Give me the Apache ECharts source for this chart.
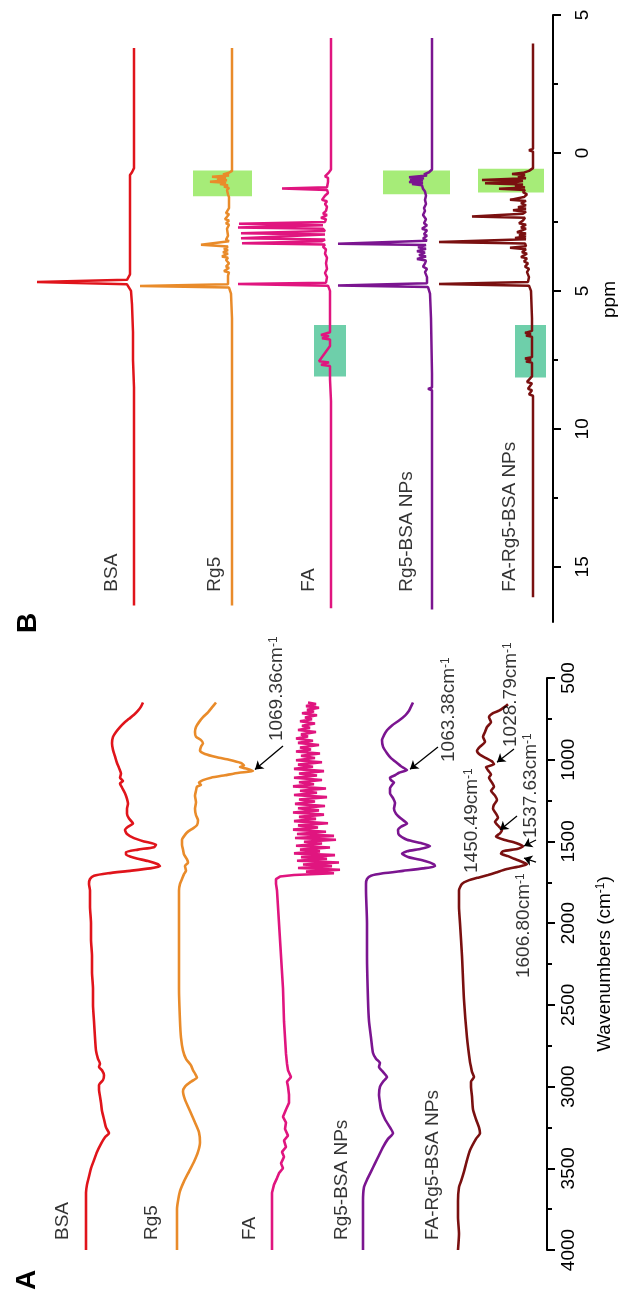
<!DOCTYPE html>
<html><head><meta charset="utf-8">
<script src="https://cdn.jsdelivr.net/npm/echarts@6/dist/echarts.min.js"></script>
<style>html,body{margin:0;padding:0;background:#fff}#c{width:618px;height:1297px}</style>
</head><body><div id="c"></div>
<script>
// ---------------- DATA ----------------
const sampleNames = ['BSA', 'Rg5', 'FA', 'Rg5-BSA NPs', 'FA-Rg5-BSA NPs'];
const wnTicks = [500, 1000, 1500, 2000, 2500, 3000, 3500, 4000];
const wnTickLabels = ['500', '1000', '1500', '2000', '2500', '3000', '3500', '4000'];
const wnMinorTicks = [750, 1250, 1750, 2250, 2750, 3250, 3750];
const ppmTicks = [-5, 0, 5, 10, 15];
const ppmTickLabels = ['5', '0', '5', '10', '15'];
const ppmMinorTicks = [-2.5, 2.5, 7.5, 12.5];

// FTIR: [wavenumber (cm-1), relative absorbance (a.u.)]
const ftirBSA = [[650,57],[675,55],[700,52],[725,48],[750,43],[775,38],[800,34],[830,30],[860,27],[900,26],[940,27],[980,29],[1020,31],[1050,33],[1085,35],[1110,34],[1130,37],[1145,34],[1170,36],[1205,39],[1240,41],[1270,42],[1300,41],[1330,41],[1360,43],[1390,47],[1410,42],[1430,39],[1455,41],[1480,48],[1500,58],[1520,70],[1535,68],[1550,52],[1565,40],[1580,40],[1600,48],[1620,62],[1640,72],[1652,74],[1665,64],[1680,44],[1695,22],[1710,8],[1730,4],[1760,3],[1800,4],[1900,4],[2000,5],[2100,5],[2200,6],[2300,6],[2400,7],[2500,7],[2600,8],[2700,9],[2780,10],[2830,12],[2860,14],[2880,13],[2900,16],[2930,18],[2960,17],[2990,13],[3020,13],[3060,14],[3100,15],[3150,16],[3200,18],[3250,20],[3285,23],[3310,19],[3350,15],[3400,11],[3450,8],[3500,5],[3550,3],[3600,1],[3650,0],[3800,0],[3900,0],[4000,0]];
const ftirRg5 = [[650,39],[680,35],[710,31],[740,26],[770,22],[800,19],[830,18],[860,19],[880,24],[900,26],[920,24],[945,23],[965,28],[985,40],[1000,52],[1020,64],[1035,67],[1045,63],[1055,70],[1069,76],[1080,62],[1095,48],[1110,34],[1125,26],[1140,22],[1155,24],[1165,20],[1190,19],[1220,18],[1260,19],[1300,18],[1340,19],[1370,21],[1400,20],[1420,16],[1440,11],[1460,8],[1490,5],[1520,5],[1550,6],[1580,7],[1610,10],[1630,11],[1650,8],[1680,9],[1700,7],[1730,5],[1760,3],[1800,2],[1900,2],[2000,2],[2200,2],[2400,2],[2600,3],[2700,4],[2780,6],[2830,9],[2870,14],[2900,16],[2920,18],[2945,20],[2970,14],[3000,8],[3030,6],[3080,8],[3150,13],[3220,18],[3280,22],[3340,23],[3400,21],[3460,17],[3520,12],[3580,7],[3640,3],[3700,1],[3750,0],[4000,0]];
const ftirFA = [[650,36],[660,44],[672,34],[682,47],[695,35],[705,42],[716,30],[728,45],[742,33],[752,40],[765,28],[778,43],[792,30],[805,38],[818,26],[830,44],[845,29],[858,36],[870,24],[884,41],[897,26],[910,47],[925,28],[938,39],[950,24],[962,48],[976,29],[990,43],[1003,24],[1016,50],[1030,26],[1043,41],[1056,22],[1070,52],[1084,27],[1097,45],[1110,22],[1124,50],[1138,27],[1150,42],[1163,21],[1176,54],[1190,28],[1202,45],[1216,22],[1229,55],[1243,27],[1256,43],[1270,23],[1283,53],[1297,26],[1310,47],[1323,21],[1336,52],[1350,27],[1362,44],[1376,22],[1389,56],[1402,26],[1415,46],[1428,21],[1441,54],[1455,25],[1466,62],[1479,23],[1490,64],[1502,32],[1513,50],[1526,24],[1537,58],[1550,28],[1561,48],[1573,22],[1584,63],[1596,29],[1607,55],[1618,25],[1629,67],[1641,31],[1651,60],[1663,26],[1673,68],[1685,34],[1695,62],[1705,22],[1715,8],[1730,4],[1760,4],[1800,5],[2000,7],[2200,9],[2400,11],[2600,12],[2800,14],[2860,15],[2900,16],[2942,19],[2970,15],[3000,16],[3050,17],[3100,17],[3140,14],[3185,11],[3220,14],[3260,13],[3300,16],[3330,12],[3370,14],[3400,10],[3430,12],[3470,9],[3500,11],[3530,7],[3560,5],[3600,2],[3650,0],[3800,0],[4000,0]];
const ftirRg5BSA = [[650,50],[675,48],[700,46],[730,42],[760,36],[790,29],[820,24],[850,21],[880,19],[920,20],[960,24],[990,28],[1020,34],[1040,38],[1063,44],[1080,36],[1095,32],[1110,27],[1125,28],[1140,31],[1155,29],[1175,27],[1205,27],[1235,30],[1265,32],[1300,31],[1330,33],[1360,38],[1390,44],[1410,38],[1430,35],[1460,36],[1490,44],[1510,58],[1528,67],[1545,58],[1560,44],[1575,39],[1595,45],[1620,62],[1640,71],[1652,72],[1665,60],[1680,40],[1695,20],[1710,8],[1730,4],[1760,3],[1800,3],[2000,4],[2200,4],[2470,5],[2600,6],[2700,8],[2795,10],[2830,13],[2855,17],[2880,16],[2910,20],[2942,24],[2970,20],[3000,17],[3050,16],[3100,17],[3140,18],[3200,22],[3250,27],[3285,30],[3320,25],[3370,20],[3420,16],[3470,12],[3520,8],[3570,4],[3615,1],[3700,0],[4000,0]];
const ftirFARg5BSA = [[660,50],[680,46],[700,41],[715,35],[740,31],[770,33],[800,29],[830,27],[860,25],[890,27],[920,22],[945,19],[970,22],[990,28],[1010,34],[1028,36],[1045,28],[1065,30],[1090,33],[1110,31],[1140,34],[1165,36],[1190,33],[1220,37],[1247,39],[1275,36],[1300,35],[1330,38],[1355,40],[1380,37],[1410,41],[1430,44],[1450,42],[1470,38],[1490,46],[1510,58],[1530,65],[1545,60],[1560,45],[1575,43],[1590,50],[1606,56],[1620,62],[1640,69],[1655,60],[1670,48],[1690,38],[1705,30],[1720,21],[1740,10],[1760,4],[1800,1],[1900,1],[2000,2],[2200,4],[2470,6],[2700,9],[2850,12],[2880,13],[2910,14],[2942,16],[2970,13],[3000,13],[3060,14],[3140,15],[3200,18],[3250,21],[3285,22],[3320,18],[3390,12],[3450,9],[3520,6],[3580,3],[3615,1],[3700,0],[3800,0],[3900,1],[4000,0]];

// 1H NMR: [chemical shift (ppm), intensity (a.u.)]
const nmrBSA = [[-3.8,0],[0.55,0],[0.7,2],[0.8,4],[1.5,4],[2.5,4],[3.5,4],[4.4,4],[4.6,7],[4.68,97],[4.76,7],[5.0,3],[5.5,2],[6.5,1],[7.5,1],[8.5,0],[16.4,0]];
const nmrRg5 = [[-3.8,0],[0.65,0],[0.72,3],[0.78,9],[0.82,3],[0.86,20],[0.9,6],[0.95,15],[0.99,5],[1.04,22],[1.08,6],[1.13,12],[1.17,4],[1.22,8],[1.27,3],[1.35,5],[1.42,3],[1.5,4],[1.6,3],[2.0,3],[2.18,6],[2.22,3],[2.4,7],[2.45,3],[2.55,6],[2.6,3],[2.75,5],[2.8,3],[3.0,4],[3.15,6],[3.2,3],[3.27,4],[3.33,31],[3.39,4],[3.48,8],[3.52,4],[3.6,9],[3.65,4],[3.75,10],[3.8,4],[3.88,6],[4.0,3],[4.12,6],[4.17,3],[4.28,8],[4.33,3],[4.45,4],[4.76,4],[4.82,92],[4.88,3],[5.1,1],[6.0,0],[8.3,0],[8.35,1],[8.4,0],[16.4,0]];
const nmrFA = [[-4.17,0],[0.6,0],[0.7,2],[0.85,6],[0.9,3],[0.97,5],[1.05,3],[1.24,4],[1.29,49],[1.34,4],[1.45,3],[1.55,6],[1.6,4],[1.7,9],[1.75,4],[1.85,6],[1.95,4],[2.1,5],[2.2,8],[2.25,4],[2.35,10],[2.4,5],[2.5,6],[2.57,92],[2.62,8],[2.66,10],[2.7,93],[2.75,8],[2.83,6],[2.91,90],[2.96,6],[3.02,8],[3.09,90],[3.14,6],[3.2,9],[3.27,89],[3.32,6],[3.4,8],[3.5,5],[3.65,6],[3.8,4],[4.0,5],[4.2,4],[4.35,6],[4.5,4],[4.7,5],[4.75,93],[4.81,3],[5.0,1],[6.0,1],[6.5,1],[6.6,10],[6.64,2],[6.72,9],[6.76,1],[7.0,1],[7.55,12],[7.59,2],[7.68,10],[7.72,1],[8.2,1],[9.0,0],[16.5,0]];
const nmrRg5BSA = [[-4.17,0],[0.6,0],[0.7,3],[0.78,8],[0.82,5],[0.88,23],[0.92,8],[0.97,22],[1.0,9],[1.05,23],[1.09,9],[1.13,20],[1.17,10],[1.22,12],[1.3,9],[1.4,7],[1.55,6],[1.7,7],[1.85,6],[2.0,8],[2.1,7],[2.25,9],[2.4,6],[2.55,8],[2.62,5],[2.75,10],[2.8,5],[2.95,8],[3.0,5],[3.1,9],[3.18,5],[3.24,6],[3.29,94],[3.34,6],[3.42,14],[3.47,6],[3.56,15],[3.61,7],[3.7,13],[3.75,6],[3.84,15],[3.9,6],[4.0,7],[4.12,9],[4.2,5],[4.32,7],[4.5,5],[4.72,5],[4.8,94],[4.86,4],[5.1,2],[6.0,1],[8.0,0],[8.5,0],[8.55,4],[8.6,0],[16.55,0]];
const nmrFARg5BSA = [[-3.97,0],[-0.15,0],[-0.1,4],[-0.05,0],[0.55,0],[0.65,4],[0.72,10],[0.76,21],[0.8,8],[0.88,15],[0.92,7],[0.98,51],[1.02,10],[1.07,20],[1.1,48],[1.14,10],[1.2,18],[1.25,8],[1.3,34],[1.34,8],[1.42,10],[1.5,6],[1.6,9],[1.7,23],[1.74,7],[1.82,12],[1.9,7],[1.97,15],[2.02,7],[2.08,20],[2.13,7],[2.2,10],[2.3,61],[2.35,8],[2.45,10],[2.55,14],[2.6,7],[2.7,12],[2.75,7],[2.87,16],[2.92,7],[2.98,14],[3.03,7],[3.08,18],[3.13,7],[3.18,8],[3.23,94],[3.28,8],[3.38,7],[3.44,23],[3.49,7],[3.6,11],[3.65,6],[3.77,12],[3.82,6],[3.93,9],[4.0,5],[4.12,8],[4.2,4],[4.32,6],[4.5,4],[4.68,5],[4.75,94],[4.81,4],[5.0,2],[6.0,1],[6.45,1],[6.52,8],[6.56,2],[6.62,7],[6.66,1],[7.0,1],[7.4,1],[7.45,8],[7.49,2],[7.56,7],[7.6,1],[8.1,1],[8.3,6],[8.35,1],[8.55,5],[8.6,1],[8.75,4],[8.8,0],[16.1,0]];

// highlighted NMR regions: sample index, ppm range
const nmrBoxSample = [1, 3, 4, 2, 4];
const nmrBoxPpm = [[0.64,1.57],[0.64,1.5],[0.57,1.43],[6.24,8.1],[6.24,8.14]];
const nmrBoxKind = ['alkyl','alkyl','alkyl','aromatic','aromatic'];

// annotated FTIR peaks (sample index, label)
const ftirPeakSample = [1, 3, 4, 4, 4, 4];
const ftirPeakLabels = ['1069.36', '1063.38', '1028.79', '1537.63', '1450.49', '1606.80'];

// ---------------- LAYOUT / STYLE ----------------
const FONT = '"Liberation Sans", Arial, sans-serif';
const colors = ['#e0141b', '#e98b2a', '#e0157f', '#7b1590', '#7a1010'];
const boxColors = {alkyl: '#a6ec78', aromatic: '#6ecfaa'};
const ftirOffset = [86, 177, 272, 363, 458];
const nmrOffset = [134, 232, 331, 432, 533];
const ftirLabelX = [63, 152, 250, 342, 433];
const nmrLabelX = [112, 215, 309, 407, 510];
const nmrBoxRel = [[-39,20],[-49,18],[-55,11],[-17,15],[-18,13]];
// per annotation: text anchor [x, wn], arrow tail, arrow head
const noteText = [[277,886],[449,1014],[511,922],[531,1479],[472,1693],[524,2336]];
const noteTail = [[283,916],[438,922],[514,935],[536,1491],[517,1345],[536,1626]];
const noteHead = [[255,1060],[410,1058],[497,1015],[524,1528],[500,1430],[524,1602]];

const ftirData = [ftirBSA, ftirRg5, ftirFA, ftirRg5BSA, ftirFARg5BSA];
const nmrData = [nmrBSA, nmrRg5, nmrFA, nmrRg5BSA, nmrFARg5BSA];

const chart = echarts.init(document.getElementById('c'), null, {renderer: 'canvas'});

const richSup = {
  a: {fontSize: 19, fontFamily: FONT, color: '#000'},
  s: {fontSize: 12, fontFamily: FONT, color: '#000', verticalAlign: 'top'}
};

function mainY(grid, min, max, ticks, labels, name, gap, margin, namePad) {
  return {
    gridIndex: grid, type: 'value', position: 'right', inverse: true, min: min, max: max,
    axisLine: {show: true, onZero: false, lineStyle: {color: '#000', width: 2}},
    axisTick: {show: true, customValues: ticks, length: 8, lineStyle: {color: '#000', width: 2}},
    axisLabel: {show: true, customValues: ticks, rotate: 90, margin: margin, fontSize: 19, fontFamily: FONT, color: '#000',
      formatter: function (v) { const i = ticks.indexOf(v); return i >= 0 ? labels[i] : ''; }},
    splitLine: {show: false},
    name: name, nameLocation: 'middle', nameRotate: 90, nameGap: gap,
    nameTextStyle: {fontSize: 19, fontFamily: FONT, color: '#000', rich: richSup, padding: namePad}
  };
}
function minorY(grid, min, max, ticks) {
  return {
    gridIndex: grid, type: 'value', position: 'right', inverse: true, min: min, max: max,
    axisLine: {show: false, onZero: false}, axisLabel: {show: false}, splitLine: {show: false},
    axisTick: {show: true, customValues: ticks, length: 5, lineStyle: {color: '#000', width: 2}}
  };
}

const series = [];
ftirData.forEach(function (arr, i) {
  series.push({
    type: 'line', name: 'FTIR ' + sampleNames[i], xAxisIndex: 0, yAxisIndex: 0,
    data: arr.map(function (d) { return [ftirOffset[i] + d[1], d[0]]; }),
    showSymbol: false, smooth: i === 2 ? false : 0.2, silent: true,
    lineStyle: {color: colors[i], width: 2.6}, itemStyle: {color: colors[i]}, z: 3
  });
});
nmrData.forEach(function (arr, i) {
  const boxes = [];
  nmrBoxSample.forEach(function (s, k) {
    if (s === i) {
      boxes.push([
        {coord: [nmrOffset[i] + nmrBoxRel[k][0], nmrBoxPpm[k][0]], itemStyle: {color: boxColors[nmrBoxKind[k]], opacity: 1}},
        {coord: [nmrOffset[i] + nmrBoxRel[k][1], nmrBoxPpm[k][1]]}
      ]);
    }
  });
  series.push({
    type: 'line', name: 'NMR ' + sampleNames[i], xAxisIndex: 1, yAxisIndex: 2,
    data: arr.map(function (d) { return [nmrOffset[i] - d[1], d[0]]; }),
    showSymbol: false, silent: true,
    lineStyle: {color: colors[i], width: 2.5}, itemStyle: {color: colors[i]}, z: 3,
    markArea: boxes.length ? {silent: true, data: boxes, z: 1} : undefined
  });
});
// sample labels
series.push({
  type: 'scatter', xAxisIndex: 0, yAxisIndex: 0, symbolSize: 0, silent: true, z: 6,
  data: sampleNames.map(function (n, i) { return {name: n, value: [ftirLabelX[i], 3939]}; }),
  label: {show: true, formatter: '{b}', position: 'inside', align: 'left', verticalAlign: 'middle', rotate: 90,
    fontSize: 19, fontFamily: FONT, color: '#000'}
});
series.push({
  type: 'scatter', xAxisIndex: 1, yAxisIndex: 2, symbolSize: 0, silent: true, z: 6,
  data: sampleNames.map(function (n, i) { return {name: n, value: [nmrLabelX[i], 15.9]}; }),
  label: {show: true, formatter: '{b}', position: 'inside', align: 'left', verticalAlign: 'middle', rotate: 90,
    fontSize: 19, fontFamily: FONT, color: '#000'}
});
// annotation texts
series.push({
  type: 'scatter', xAxisIndex: 0, yAxisIndex: 0, symbolSize: 0, silent: true, z: 6,
  data: ftirPeakLabels.map(function (t, k) { return {name: t, value: noteText[k]}; }),
  label: {show: true, position: 'inside', align: 'left', verticalAlign: 'middle', rotate: 90,
    formatter: function (p) { return '{a|' + p.name + 'cm}{s|-1}'; }, rich: richSup}
});
// annotation arrows
series.push({
  type: 'lines', coordinateSystem: 'cartesian2d', xAxisIndex: 0, yAxisIndex: 0, silent: true, z: 7,
  symbol: ['none', 'arrow'], symbolSize: [0, 8],
  lineStyle: {color: '#000', width: 1.3, opacity: 1, curveness: 0},
  data: ftirPeakLabels.map(function (t, k) { return {coords: [noteTail[k], noteHead[k]]}; })
});

chart.setOption({
  animation: false,
  backgroundColor: '#fff',
  grid: [
    {left: 0, right: 71, top: 678, height: 572, outerBoundsMode: 'none', containLabel: false},
    {left: 0, right: 65, top: 15, height: 607, outerBoundsMode: 'none', containLabel: false}
  ],
  xAxis: [
    {gridIndex: 0, type: 'value', min: 0, max: 547, show: false},
    {gridIndex: 1, type: 'value', min: 0, max: 553, show: false}
  ],
  yAxis: [
    mainY(0, 500, 4000, wnTicks, wnTickLabels, '{a|Wavenumbers (cm}{s|-1}{a|)}', 48, 12, 0),
    minorY(0, 500, 4000, wnMinorTicks),
    mainY(1, -5, 17, ppmTicks, ppmTickLabels, 'ppm', 46, 20, [0, 0, 0, 38]),
    minorY(1, -5, 17, ppmMinorTicks)
  ],
  graphic: [
    {type: 'text', x: 27, y: 1280, rotation: Math.PI / 2, style: {text: 'A', font: 'bold 28px "Liberation Sans", Arial, sans-serif', fill: '#000', align: 'center', verticalAlign: 'middle'}},
    {type: 'text', x: 28, y: 623, rotation: Math.PI / 2, style: {text: 'B', font: 'bold 28px "Liberation Sans", Arial, sans-serif', fill: '#000', align: 'center', verticalAlign: 'middle'}}
  ],
  series: series
});
</script></body></html>
